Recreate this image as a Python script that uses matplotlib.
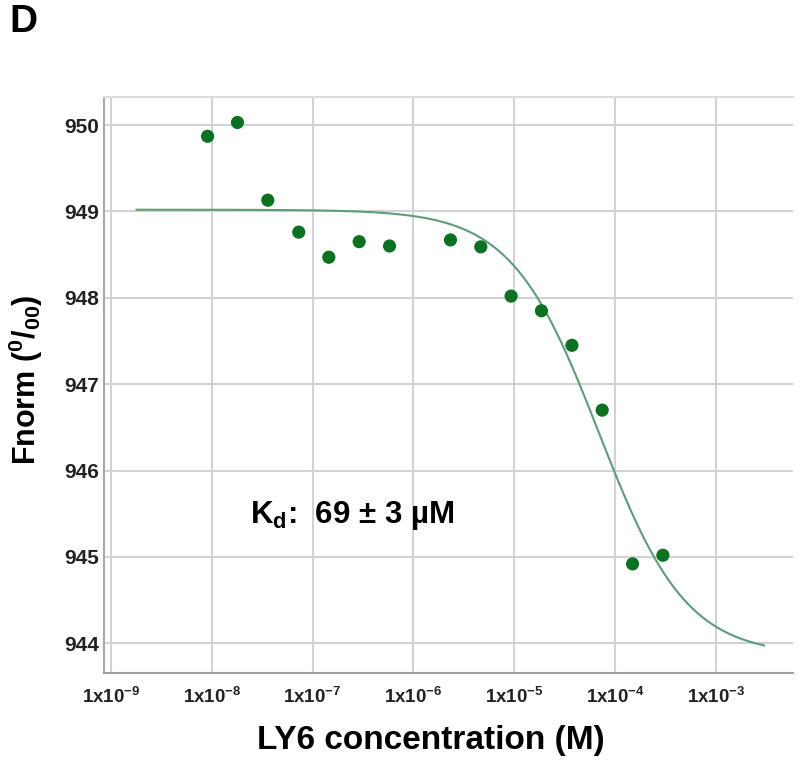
import numpy as np
import matplotlib
matplotlib.use("Agg")
import matplotlib.pyplot as plt
from matplotlib.ticker import FixedLocator

plt.rcParams['font.family'] = ['Liberation Sans', 'DejaVu Sans']
plt.rcParams['mathtext.fontset'] = 'custom'
plt.rcParams['mathtext.rm'] = 'Liberation Sans:bold'
plt.rcParams['mathtext.bf'] = 'Liberation Sans:bold'
plt.rcParams['mathtext.it'] = 'Liberation Sans:bold'

# ---- data ----
conc_M = [9.1e-9, 1.8e-8, 3.6e-8, 7.3e-8, 1.45e-7, 2.9e-7, 5.8e-7,
          2.33e-6, 4.66e-6, 9.3e-6, 1.86e-5, 3.73e-5, 7.45e-5, 1.49e-4, 2.98e-4]
fnorm = [949.87, 950.03, 949.13, 948.76, 948.47, 948.65, 948.60,
         948.67, 948.59, 948.02, 947.85, 947.45, 946.70, 944.92, 945.02]

# fit parameters
kd_M = 69e-6
f_unbound = 949.02
f_bound = 943.86
fit_start, fit_end = 1.8e-9, 3.0e-3

xtick_vals = [1e-9, 1e-8, 1e-7, 1e-6, 1e-5, 1e-4, 1e-3]
xtick_labels = [r'1x10$^{\mathbf{-9}}$', r'1x10$^{\mathbf{-8}}$', r'1x10$^{\mathbf{-7}}$',
                r'1x10$^{\mathbf{-6}}$', r'1x10$^{\mathbf{-5}}$', r'1x10$^{\mathbf{-4}}$',
                r'1x10$^{\mathbf{-3}}$']
ytick_vals = [944, 945, 946, 947, 948, 949, 950]

fig = plt.figure(figsize=(8, 7.61), dpi=100)
ax = fig.add_axes([0.1304, 0.116, 0.8612, 0.756])

ax.set_xscale('log')
ax.set_xlim(10 ** -9.065, 10 ** -2.233)
ax.set_ylim(943.66, 950.32)

# grid
ax.xaxis.set_major_locator(FixedLocator(xtick_vals))
ax.xaxis.set_minor_locator(FixedLocator([]))
ax.set_yticks(ytick_vals)
ax.grid(True, color='#d2d2d2', linewidth=1.5)
ax.set_axisbelow(True)

ax.set_xticklabels(xtick_labels, fontsize=13.5, color='#222222', fontweight='bold')
ax.set_yticklabels([str(v) for v in ytick_vals], fontsize=15, color='#222222',
                   fontweight='bold')
ax.tick_params(axis='both', length=0)
ax.tick_params(axis='x', pad=10)
ax.tick_params(axis='y', pad=4)

ax.spines['right'].set_visible(False)
ax.spines['top'].set_color('#dddddd')
ax.spines['top'].set_linewidth(1.5)
ax.spines['left'].set_color('#a8a8a8')
ax.spines['left'].set_linewidth(1.5)
ax.spines['bottom'].set_color('#a0a0a0')
ax.spines['bottom'].set_linewidth(1.5)

# fit curve
xc = np.logspace(np.log10(fit_start), np.log10(fit_end), 400)
frac = xc / (xc + kd_M)
yc = f_unbound + (f_bound - f_unbound) * frac
ax.plot(xc, yc, color='#5e9c7a', linewidth=1.5, zorder=3)

# data points
ax.scatter(conc_M, fnorm, s=90, color='#0a7222', edgecolors='none', zorder=4)

# texts
fig.text(250 / 800, 1 - 516 / 761, r'K$_\mathbf{d}$:  69 ± 3 µM',
         fontsize=22.5, fontweight='bold', ha='left', va='center', color='black')
fig.text(9 / 800, 1 - 22 / 761, 'D', fontsize=28, fontweight='bold', ha='left',
         va='center')
fig.text(26 / 800, 1 - 380 / 761, r'Fnorm ($^{\mathbf{0}}$/$_{\mathbf{00}}$)', rotation=90,
         fontsize=22, fontweight='bold', ha='center', va='center')
fig.text(431 / 800, 1 - 741 / 761, 'LY6 concentration (M)', fontsize=24,
         fontweight='bold', ha='center', va='center')

fig.savefig('out.png', dpi=100)
